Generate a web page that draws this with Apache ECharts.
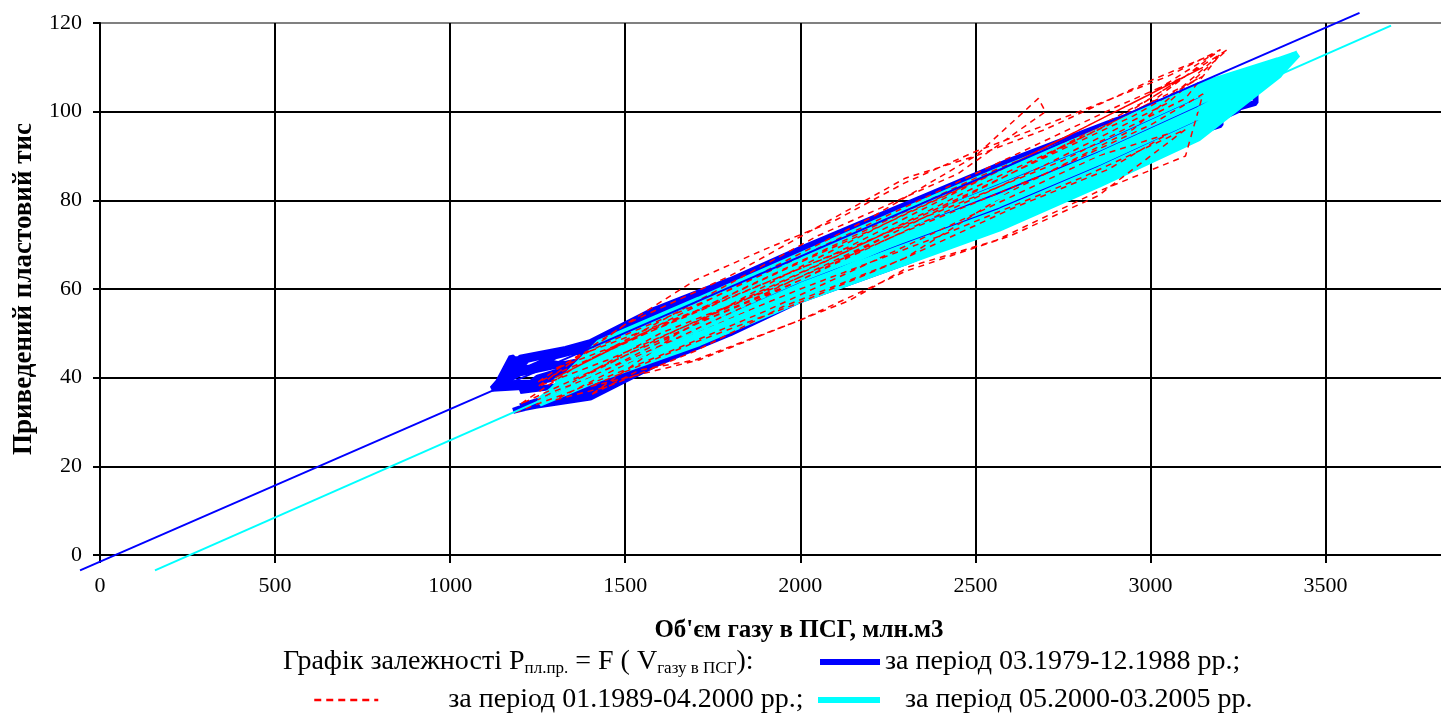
<!DOCTYPE html>
<html>
<head>
<meta charset="utf-8">
<script src="https://cdn.jsdelivr.net/npm/echarts@6/dist/echarts.min.js"></script>
<style>html,body{margin:0;padding:0;background:#fff}#c{width:1441px;height:717px}</style>
</head>
<body>
<div id="c"></div>
<script>
const seriesNames = ['за період 03.1979-12.1988 рр.;', 'за період 01.1989-04.2000 рр.;', 'за період 05.2000-03.2005 рр.'];
const xTicks = [0, 500, 1000, 1500, 2000, 2500, 3000, 3500];
const yTicks = [0, 20, 40, 60, 80, 100, 120];

// [volume of gas in storage, mln m3 ; reduced reservoir pressure]
const blueData = [
 [1180,44],[1250,45],[1400,47.6],[1600,55],[1800,61.4],[2000,68.4],[2300,78.4],[2600,88.3],[2900,97.4],[3100,103],
 [2900,94.5],[2600,85],[2300,75.1],[2000,65.5],[1800,58.4],[1600,51.9],[1400,44.3],[1200,41],[1130,38],
 [1175,44.7],[1220,42],[1300,44.8],[1400,46.8],[1600,54.3],[1800,60.8],[2000,67.8],[2300,77.7],[2600,87.7],[2900,96.9],[3100,102.5],[3200,105],
 [3100,99.5],[2900,93.4],[2600,83.6],[2300,73.8],[2000,64.4],[1800,57.2],[1600,50.7],[1400,43],[1300,40.5],[1230,38],[1120,37.5],
 [1170,42],[1200,44.5],[1330,46.5],[1400,48],[1580,55.2],[1800,62],[2000,69],[2300,79],[2600,89],[2900,98],[3150,104.7],[3250,107.5],
 [3250,103.3],[3100,98.5],[2900,92.3],[2600,82.3],[2300,72.5],[2000,63.3],[1800,56],[1600,49.5],[1400,41.8],[1250,39],[1130,38.5],
 [1180,40.5],[1280,43.5],[1350,42.5],[1400,46.1],[1600,53.7],[1800,60.2],[2000,67.3],[2300,77],[2600,87],[2900,96.3],[3100,102],[3300,106],
 [3300,102],[3100,97.5],[2900,91.1],[2600,80.9],[2300,71.2],[2000,62.1],[1800,54.8],[1600,48.3],[1450,44],[1300,43],[1200,42],[1150,39],
 [1220,44],[1330,46],[1400,45.5],[1500,49],[1600,53.1],[1800,59.6],[2000,66.7],[2300,76.4],[2600,86.3],[2900,95.7],[3100,101.5],[3200,104],
 [3200,99.5],[3100,96.5],[2900,90],[2600,79.6],[2300,69.9],[2000,61],[1800,53.6],[1600,47.1],[1400,39.3],[1300,38],[1200,37],
 [1250,40],[1400,43.6],[1600,51.3],[1800,57.8],[2000,65],[2300,74.5],[2600,84.3],[2900,94],[3100,100],[3250,104.5],
 [3250,100.3],[3100,95],[2900,88.2],[2600,77.5],[2300,68],[2000,59.2],[1800,51.8],[1600,45.3],[1400,37.4],[1250,34.5],
 [1200,33.5],[1300,36],[1400,41.8],[1600,49.5],[1800,56],[2000,63.3],[2300,72.5],[2600,82.3],[2900,92.3],[3150,100],
 [3150,95.5],[2900,86.5],[2600,75.5],[2300,66],[2000,57.5],[1800,50],[1600,43.5],[1400,35.5],[1230,33.5],[1180,32.5],
 [1250,34.5],[1400,39.9],[1600,47.7],[1800,54.2],[2000,61.5],[2300,70.6],[2600,80.2],[2900,90.5],[3100,97],[3200,99.5],
 [3200,97],[3100,94.5],[2900,87.7],[2600,76.9],[2300,67.3],[2000,58.7],[1800,51.2],[1600,44.7],[1400,36.8],[1200,33],
 [1300,34.5],[1400,38],[1600,45.9],[1800,52.4],[2000,59.8],[2300,68.6],[2600,78.2],[2900,88.8],[3100,95.5],
 [3100,94],[2900,87],[2600,76.2],[2300,66.7],[2000,58.1],[1800,50.6],[1600,44.1],[1400,36.1],[1300,35],
 [1400,39.3],[1600,47.1],[1800,53.6],[2000,61],[2300,69.9],[2600,79.6],[2900,90],[3050,94],
 [2900,88],[2600,78],[2300,68.5],[2000,60]
];
const redData = [
 [1400,46],[1700,55],[2100,70],[2500,85],[2900,98],[3150,108],[2950,99],[2600,86],[2200,71],[1800,56],[1450,44],[1250,38],
 [1500,52],[1700,62],[1900,69],[2100,75.5],[2300,84],[2500,91],[2700,97],[3050,108],[3200,114],[3000,102],[2700,90],[2300,74],[1900,59],[1500,45],[1200,34],
 [1350,42],[1700,57],[2050,72],[2450,86],[2700,100],[2680,103],[2500,90],[2200,76],[1850,62],[1550,50],[1300,40],
 [1550,50],[1950,63],[2350,76],[2750,89],[3100,103],[3200,113],[2950,96],[2600,82],[2300,67],[1950,56],[1700,46],[1450,38],[1300,35],
 [1600,47],[2000,60],[2400,72],[2800,85],[3100,96],[2850,81],[2600,72],[2300,64],[2000,53],[1700,44],[1540,41.7],[1400,36],
 [1650,50],[2000,65],[2300,77],[2600,88],[2900,100],[3150,110],[2850,98],[2550,86],[2250,75],[2000,66],[1700,55],[1450,46],[1250,39],
 [1500,52],[1800,63],[2050,74],[2300,85],[2500,90],[2700,96],[3000,107],[3180,113],[3000,104],[2700,92],[2400,80],[2100,68],[1800,58],[1500,48],[1300,42],
 [1450,48],[1750,58],[2100,71],[2500,86],[2900,101],[3100,108],[2880,97],[2500,83],[2200,71],[1900,60],[1600,49],[1350,39],
 [1600,50],[1950,61],[2300,73],[2700,86],[3000,97],[3150,104],[3100,90],[2850,82],[2560,71],[2310,65],[2140,57.4],[2000,53],[1711,44],[1400,38],
 [1700,48],[2000,57],[2300,67],[2600,78],[2880,87],[3050,95],[2850,90],[2500,77],[2200,66],[1900,55],[1600,45],[1350,37],[1180,32],
 [1400,40],[1700,52],[2000,62],[2350,75],[2700,88],[3050,102],[3220,114],[3000,103],[2650,88],[2300,74],[2000,62],[1650,49],[1400,40],
 [1300,37],[1250,35]
];
const cyanData = [
 [1500,46.5],[1711,56.5],[2000,66.8],[2283,76.2],[2567,85.4],[2852,94.4],[3137,104.6],[3365,111.2],[3420,113],
 [3365,108.7],[3137,96],[2852,85.5],[2567,75.7],[2283,67.6],[2000,59.4],[1711,49.5],[1426,41.2],[1255,34.8],
 [1426,45.6],[1711,54.5],[2000,64.8],[2283,73.8],[2567,82.7],[2852,91.9],[3137,102.2],[3365,110.5],[3410,112.8],
 [3365,108.2],[3137,94.1],[2852,83.6],[2567,73.7],[2283,65.6],[2000,57.6],[1711,47.9],[1426,39.9],[1255,34.2],
 [1426,47.8],[1711,57.5],[2000,67.5],[2283,77.2],[2567,86.7],[2852,95.7],[3137,105.8],[3365,111.5],[3420,113],
 [3365,109.6],[3137,99],[2852,88.7],[2567,79.2],[2283,70.9],[2000,62.4],[1711,52.3],[1426,43.5],[1300,39],
 [1426,44.4],[1711,53.5],[2000,63.6],[2283,72.2],[2567,80.6],[2852,90],[3137,100.3],[3365,109.9],[3415,112.8],
 [3365,109],[3137,97.2],[2852,86.8],[2567,77.2],[2283,69],[2000,60.6],[1711,50.6],[1426,42.1],[1270,35.5],
 [1426,47],[1711,56.3],[2000,66.4],[2283,75.5],[2567,84.6],[2852,93.8],[3137,104],[3365,111],[3420,113],
 [3365,108.3],[3137,94.7],[2852,84.3],[2567,74.4],[2283,66.3],[2000,58.2],[1711,48.4]
];
const blueTrend = [[-57,-3.45],[3597,122.3]];
const cyanTrend = [[157,-3.45],[3687,119.4]];

const FONT = 'Liberation Serif';
function trendSeries(name, pts, color) {
  return {
    name: name, type: 'custom', clip: false, z: 5, silent: true,
    data: [[pts[0][0], pts[0][1], pts[1][0], pts[1][1]]],
    encode: { x: [0, 2], y: [1, 3] },
    renderItem: function (params, api) {
      const a = api.coord([api.value(0), api.value(1)]);
      const b = api.coord([api.value(2), api.value(3)]);
      return { type: 'line', shape: { x1: a[0], y1: a[1], x2: b[0], y2: b[1] },
               style: { stroke: color, lineWidth: 2 } };
    }
  };
}
const chart = echarts.init(document.getElementById('c'));
chart.setOption({
  animation: false,
  backgroundColor: '#fff',
  grid: { left: 100, right: -5, top: 23, bottom: 162, containLabel: false, outerBoundsMode: 'none' },
  title: [
    { text: "Об'єм газу в ПСГ, млн.м3", left: 794, top: 613, textAlign: 'center',
      textStyle: { fontFamily: FONT, fontWeight: 'bold', fontSize: 25, color: '#000' } },
    { text: '{a|Графік залежності P}{s|пл.пр.}{a| = F ( V}{s|газу в ПСГ}{a|):}', left: 278, top: 642,
      textStyle: { fontWeight: 'normal', rich: {
        a: { fontFamily: FONT, fontWeight: 'normal', fontSize: 28, color: '#000', lineHeight: 30 },
        s: { fontFamily: FONT, fontWeight: 'normal', fontSize: 17, color: '#000', lineHeight: 30, verticalAlign: 'bottom', padding: [8,0,0,0] }
      } } }
  ],
  legend: [
    { data: [seriesNames[0]], left: 815, top: 643, itemWidth: 60, itemHeight: 6, icon: 'rect',
      textStyle: { fontFamily: FONT, fontSize: 28, color: '#000' } },
    { data: [seriesNames[1]], left: 308, top: 681, itemWidth: 64, itemHeight: 10,
      itemStyle: { opacity: 0 },
      lineStyle: { type: [7,5], width: 2.5, opacity: 1 },
      textStyle: { fontFamily: FONT, fontSize: 28, color: '#000', padding: [0,0,0,65] } },
    { data: [seriesNames[2]], left: 813, top: 681, itemWidth: 62, itemHeight: 6, icon: 'rect',
      textStyle: { fontFamily: FONT, fontSize: 28, color: '#000', padding: [0,0,0,20] } }
  ],
  xAxis: {
    type: 'value', min: 0, max: 3844, interval: 500,
    axisLine: { onZero: false, lineStyle: { color: '#000', width: 2 } },
    axisTick: { show: true, length: 8, lineStyle: { color: '#000', width: 2 } },
    axisLabel: { margin: 20, fontFamily: FONT, fontSize: 22, color: '#000', showMaxLabel: false,
      formatter: v => xTicks.indexOf(v) >= 0 ? String(v) : '' },
    splitLine: { show: true, lineStyle: { color: '#000', width: 2 } }
  },
  yAxis: {
    type: 'value', min: 0, max: 120, interval: 20,
    name: 'Приведений пластовий тис', nameLocation: 'middle', nameGap: 62,
    nameTextStyle: { fontFamily: FONT, fontWeight: 'bold', fontSize: 27, color: '#000' },
    axisLine: { show: true, onZero: false, lineStyle: { color: '#000', width: 2 } },
    axisTick: { show: true, length: 7, lineStyle: { color: '#000', width: 2 } },
    axisLabel: { margin: 18, fontFamily: FONT, fontSize: 22, color: '#000',
      formatter: v => yTicks.indexOf(v) >= 0 ? String(v) : '' },
    splitLine: { show: true, lineStyle: { color: ['#000','#000','#000','#000','#000','#000','#808080'], width: 2 } }
  },
  series: [
    { name: seriesNames[0], type: 'line', data: blueData, showSymbol: false, symbol: 'none',
      color: '#0000FF', lineStyle: { color: '#0000FF', width: 6 }, z: 2 },
    { name: seriesNames[2], type: 'line', data: cyanData, showSymbol: false, symbol: 'none',
      color: '#00FFFF', lineStyle: { color: '#00FFFF', width: 7 }, z: 3 },
    { name: seriesNames[1], type: 'line', data: redData, showSymbol: false, symbol: 'none',
      color: '#FF0000', lineStyle: { color: '#FF0000', width: 1.5, type: [6,5] }, z: 4 },
    trendSeries('trendBlue', blueTrend, '#0000FF'),
    trendSeries('trendCyan', cyanTrend, '#00FFFF')
  ]
});
</script>
</body>
</html>
